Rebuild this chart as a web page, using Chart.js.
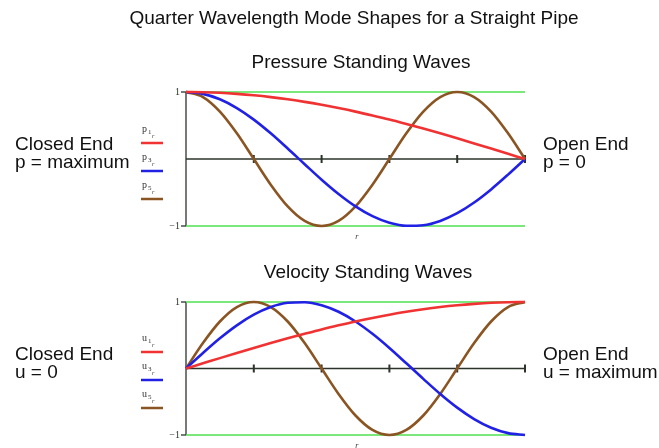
<!DOCTYPE html>
<html>
<head>
<meta charset="utf-8">
<script src="https://cdn.jsdelivr.net/npm/chart.js@4/dist/chart.umd.min.js"></script>
<style>
  body { margin: 0; background: #fff; }
  #wrap { position: relative; width: 659px; height: 448px; }
  canvas { position: absolute; left: 0; }
  #pressure { top: 0; }
  #velocity { top: 250px; }
</style>
</head>
<body>
<div id="wrap">
  <canvas id="pressure" width="659" height="250"></canvas>
  <canvas id="velocity" width="659" height="198"></canvas>
</div>
<script>
// position along the pipe, 0 = closed end, 5 = open end
const xValues = [0, 0.25, 0.5, 0.75, 1, 1.25, 1.5, 1.75, 2, 2.25, 2.5,
                 2.75, 3, 3.25, 3.5, 3.75, 4, 4.25, 4.5, 4.75, 5];
const xTicks = [1, 2, 3, 4, 5];
const yTicks = [1, -1];
const yTickLabels = ["1", "\u22121"];

// pressure modes
const p1 = [1, 0.997, 0.988, 0.972, 0.951, 0.924, 0.891, 0.853, 0.809, 0.76, 0.707,
            0.649, 0.588, 0.522, 0.454, 0.383, 0.309, 0.233, 0.156, 0.078, 0];
const p3 = [1, 0.972, 0.891, 0.76, 0.588, 0.383, 0.156, -0.078, -0.309, -0.522, -0.707,
            -0.853, -0.951, -0.997, -0.988, -0.924, -0.809, -0.649, -0.454, -0.233, 0];
const p5 = [1, 0.924, 0.707, 0.383, 0, -0.383, -0.707, -0.924, -1, -0.924, -0.707,
            -0.383, 0, 0.383, 0.707, 0.924, 1, 0.924, 0.707, 0.383, 0];

// velocity modes
const u1 = [0, 0.078, 0.156, 0.233, 0.309, 0.383, 0.454, 0.522, 0.588, 0.649, 0.707,
            0.76, 0.809, 0.853, 0.891, 0.924, 0.951, 0.972, 0.988, 0.997, 1];
const u3 = [0, 0.233, 0.454, 0.649, 0.809, 0.924, 0.988, 0.997, 0.951, 0.853, 0.707,
            0.522, 0.309, 0.078, -0.156, -0.383, -0.588, -0.76, -0.891, -0.972, -1];
const u5 = [0, 0.383, 0.707, 0.924, 1, 0.924, 0.707, 0.383, 0, -0.383, -0.707,
            -0.924, -1, -0.924, -0.707, -0.383, 0, 0.383, 0.707, 0.924, 1];

const modeNumbers = ["1", "3", "5"];
const modeColors = ["#f03232", "#2121e6", "#8a5522"];

const SANS = '"Liberation Sans", Arial, sans-serif';
const SERIF = '"Liberation Serif", "Times New Roman", serif';

const pairs = ys => ys.map((y, i) => ({ x: xValues[i], y: y }));

// axes through zero, tick marks, legend and side captions
const pipeDecor = {
    id: "pipeDecor",
    beforeDatasetsDraw(chart, args, opts) {
        const { ctx, scales: { x, y } } = chart;
        const x0 = x.getPixelForValue(0);
        const y0 = y.getPixelForValue(0);
        ctx.save();
        ctx.strokeStyle = "#2b332b";
        ctx.fillStyle = "#2b332b";
        ctx.lineWidth = 1.3;

        // vertical axis
        ctx.beginPath();
        ctx.moveTo(x0, y.getPixelForValue(1));
        ctx.lineTo(x0, y.getPixelForValue(-1));
        ctx.stroke();
        ctx.font = `10px ${SERIF}`;
        ctx.textAlign = "right";
        ctx.textBaseline = "middle";
        yTicks.forEach((v, i) => {
            const py = y.getPixelForValue(v);
            ctx.beginPath();
            ctx.moveTo(x0 - 5, py);
            ctx.lineTo(x0, py);
            ctx.stroke();
            ctx.fillText(yTickLabels[i], x0 - 6, py);
        });

        // horizontal axis at zero
        ctx.beginPath();
        ctx.moveTo(x0, y0);
        ctx.lineTo(x.getPixelForValue(5), y0);
        ctx.stroke();
        ctx.lineWidth = 2;
        xTicks.forEach(v => {
            const px = x.getPixelForValue(v);
            ctx.beginPath();
            ctx.moveTo(px, y0 - 4);
            ctx.lineTo(px, y0 + 4);
            ctx.stroke();
        });

        ctx.font = `italic 8px ${SERIF}`;
        ctx.textAlign = "center";
        ctx.textBaseline = "alphabetic";
        ctx.fillText("r", x.getPixelForValue(2.52), y.getPixelForValue(-1) + 13);
        ctx.restore();
    },
    afterDraw(chart, args, opts) {
        const { ctx } = chart;
        ctx.save();
        ctx.fillStyle = "#111";
        ctx.textBaseline = "alphabetic";
        ctx.font = `19px ${SANS}`;
        ctx.textAlign = "center";
        (opts.titles || []).forEach(t => ctx.fillText(t.text, t.x, t.y));
        ctx.textAlign = "left";
        opts.leftText.forEach((s, i) => ctx.fillText(s, 15, opts.captionY + i * 18));
        opts.rightText.forEach((s, i) => ctx.fillText(s, 543, opts.captionY + i * 18));

        // legend
        modeNumbers.forEach((n, i) => {
            const ly = opts.legendY + i * 28;
            ctx.strokeStyle = modeColors[i];
            ctx.lineWidth = 2.5;
            ctx.beginPath();
            ctx.moveTo(141, ly);
            ctx.lineTo(163, ly);
            ctx.stroke();
            ctx.fillStyle = "#333";
            ctx.font = `10px ${SERIF}`;
            ctx.fillText(opts.symbol, 142, ly - 11);
            ctx.font = `7px ${SERIF}`;
            ctx.fillText(n, 148, ly - 9);
            ctx.font = `italic 6px ${SERIF}`;
            ctx.fillText("r", 152, ly - 5);
        });
        ctx.restore();
    },
};

function buildPlot(id, series, padding, decor) {
    const datasets = series.map((ys, i) => ({
        data: pairs(ys),
        borderColor: modeColors[i],
        borderWidth: 2.6,
        clip: false,
    }));
    // green bounds at +1 and -1, drawn underneath the curves
    [1, -1].forEach(v => datasets.push({
        data: [{ x: 0, y: v }, { x: 5, y: v }],
        borderColor: "#4ee04e",
        borderWidth: 1.6,
        clip: false,
    }));
    return new Chart(document.getElementById(id), {
        type: "line",
        data: { datasets },
        options: {
            responsive: false,
            animation: false,
            layout: { padding },
            elements: {
                point: { radius: 0 },
                line: { cubicInterpolationMode: "monotone" },
            },
            scales: {
                x: { type: "linear", min: 0, max: 5, display: false },
                y: { min: -1, max: 1, display: false },
            },
            plugins: {
                legend: { display: false },
                tooltip: { enabled: false },
                pipeDecor: decor,
            },
        },
        plugins: [pipeDecor],
    });
}

buildPlot("pressure", [p1, p3, p5], { left: 186, right: 134, top: 92, bottom: 24 }, {
    titles: [
        { text: "Quarter Wavelength Mode Shapes for a Straight Pipe", x: 354, y: 24 },
        { text: "Pressure Standing Waves", x: 361, y: 68 },
    ],
    leftText: ["Closed End", "p = maximum"],
    rightText: ["Open End", "p = 0"],
    captionY: 150,
    symbol: "p",
    legendY: 143,
});

buildPlot("velocity", [u1, u3, u5], { left: 186, right: 134, top: 52, bottom: 13 }, {
    titles: [{ text: "Velocity Standing Waves", x: 368, y: 28 }],
    leftText: ["Closed End", "u = 0"],
    rightText: ["Open End", "u = maximum"],
    captionY: 110,
    symbol: "u",
    legendY: 102,
});
</script>
</body>
</html>
